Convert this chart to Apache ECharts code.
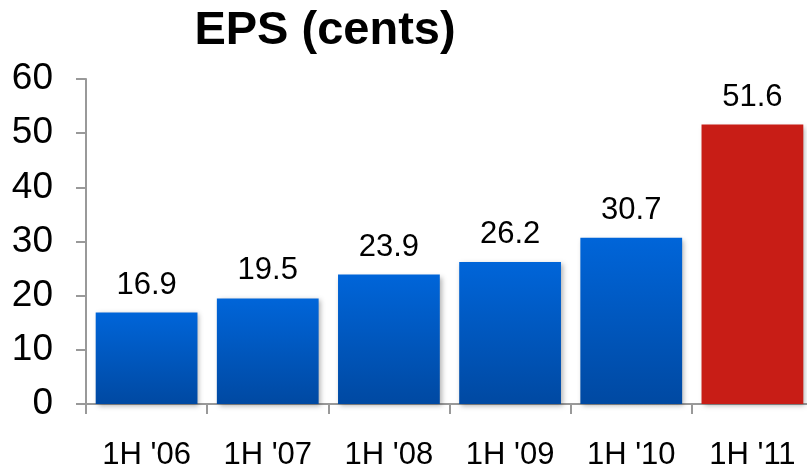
<!DOCTYPE html>
<html>
<head>
<meta charset="utf-8">
<script src="https://cdn.jsdelivr.net/npm/echarts@6/dist/echarts.min.js"></script>
<style>
  html, body { margin: 0; padding: 0; background: #fff; }
  #chart { width: 807px; height: 466px; }
</style>
</head>
<body>
<div id="chart"></div>
<script>
// Half-year earnings per share, in cents
const periods = ["1H '06", "1H '07", "1H '08", "1H '09", "1H '10", "1H '11"];
const eps = [16.9, 19.5, 23.9, 26.2, 30.7, 51.6];
const yTicks = [0, 10, 20, 30, 40, 50, 60];

const FONT = '"Liberation Sans", Arial, Helvetica, sans-serif';

const blueFill = new echarts.graphic.LinearGradient(0, 0, 0, 1, [
  { offset: 0, color: '#0065D9' },
  { offset: 1, color: '#0049A2' }
]);
const redFill = '#C81D16';

const chart = echarts.init(document.getElementById('chart'), null, { renderer: 'canvas' });

chart.setOption({
  animation: false,
  backgroundColor: '#ffffff',
  title: {
    text: 'EPS (cents)',
    left: 320,
    top: 3,
    textAlign: 'center',
    textStyle: { fontFamily: FONT, fontWeight: 'bold', fontSize: 47, color: '#000' }
  },
  grid: {
    left: 86,
    top: 79,
    width: 727,
    height: 325,
    containLabel: false,
    outerBoundsMode: 'none'
  },
  xAxis: {
    type: 'category',
    data: periods,
    axisLine: { show: true, lineStyle: { color: '#999', width: 2 } },
    axisTick: { show: true, length: 10, lineStyle: { color: '#999', width: 2 } },
    axisLabel: { margin: 36, fontFamily: FONT, fontSize: 31, color: '#000' }
  },
  yAxis: {
    type: 'value',
    min: yTicks[0],
    max: yTicks[yTicks.length - 1],
    interval: 10,
    splitLine: { show: false },
    axisLine: { show: true, lineStyle: { color: '#999', width: 2 } },
    axisTick: { show: true, length: 10, lineStyle: { color: '#999', width: 2 } },
    axisLabel: { margin: 33, fontFamily: FONT, fontSize: 37, color: '#000' }
  },
  series: [{
    type: 'bar',
    data: eps.map((v, i) => ({
      value: v,
      itemStyle: { color: i === eps.length - 1 ? redFill : blueFill }
    })),
    barCategoryGap: '16%',
    itemStyle: {
      shadowBlur: 5,
      shadowOffsetX: 2,
      shadowOffsetY: 2,
      shadowColor: 'rgba(0,0,0,0.3)'
    },
    label: {
      show: true,
      position: 'top',
      distance: 12,
      fontFamily: FONT,
      fontSize: 31,
      color: '#000',
      formatter: p => p.value.toFixed(1)
    }
  }]
});
</script>
</body>
</html>
